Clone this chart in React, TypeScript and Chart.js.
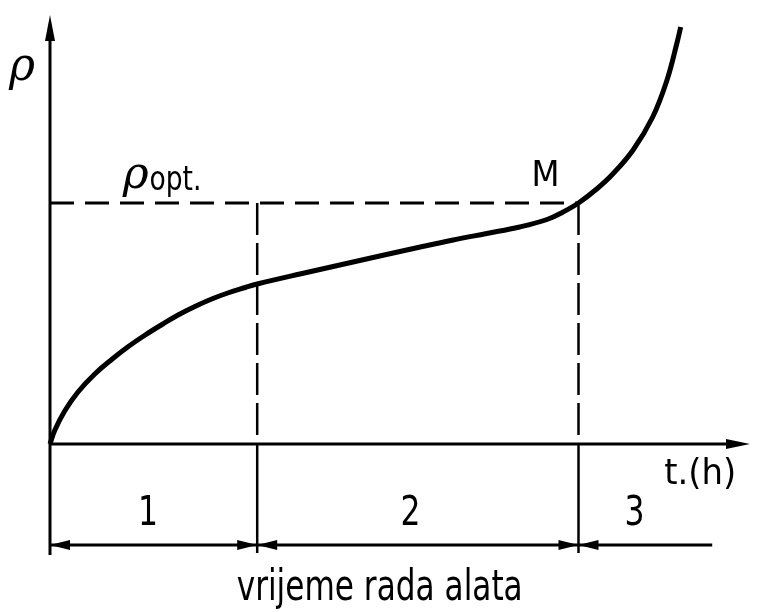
import React, { useEffect, useRef } from "react";
import { Chart, registerables } from "chart.js";

Chart.register(...registerables);

// Wear curve (time t in h, wear rho)
const curveT = [0, 0.07, 0.21, 0.4, 0.64, 0.89, 1.11, 1.36, 1.6, 1.83, 2.07, 2.31, 2.54, 2.79, 2.96, 3.57, 4.71, 5.29, 5.76, 6.24, 6.71, 7.1, 7.33, 7.55, 7.81, 8.04, 8.33, 8.61, 8.81, 8.96, 9.01];
const curveRho = [0, 0.14, 0.33, 0.52, 0.7, 0.85, 0.97, 1.09, 1.195, 1.29, 1.375, 1.45, 1.51, 1.565, 1.6, 1.7, 1.88, 1.97, 2.04, 2.105, 2.17, 2.245, 2.32, 2.41, 2.55, 2.7, 2.94, 3.27, 3.63, 4.02, 4.17];

// Phase boundaries and labels
const phaseBounds = [0, 2.96, 7.55, 9.46];
const phaseLabels = ["1", "2", "3"];
const phaseLabelT = [1.4, 5.15, 8.35];
const RHO_OPT = 2.41;
const T_M = 7.55;

// Axis ranges
const T_MIN = 0;
const T_MAX = 10;
const RHO_MIN = -1.11;
const RHO_MAX = 4.29;
const DIM_RHO = -1.01;

// Texts
const yLabel = "ρ";
const optLabelMain = "ρ";
const optLabelSub = "opt.";
const mLabel = "M";
const xLabel = "t.(h)";
const caption = "vrijeme rada alata";

function arrow(ctx: CanvasRenderingContext2D, tx: number, ty: number, dx: number, dy: number, len: number, hw: number) {
  const px = -dy, py = dx;
  ctx.beginPath();
  ctx.moveTo(tx, ty);
  ctx.lineTo(tx - dx * len + px * hw, ty - dy * len + py * hw);
  ctx.lineTo(tx - dx * len - px * hw, ty - dy * len - py * hw);
  ctx.closePath();
  ctx.fill();
}

const diagramPlugin = {
  id: "diagram",
  beforeDatasetsDraw(chart: any) {
    const { ctx, scales } = chart;
    const X = (v: number) => scales.x.getPixelForValue(v);
    const Y = (v: number) => scales.y.getPixelForValue(v);
    ctx.save();
    ctx.strokeStyle = "#000";
    ctx.fillStyle = "#000";
    ctx.lineCap = "butt";

    // y axis
    ctx.lineWidth = 3;
    ctx.beginPath();
    ctx.moveTo(X(0), Y(RHO_MIN));
    ctx.lineTo(X(0), Y(RHO_MAX) + 10);
    ctx.stroke();
    arrow(ctx, X(0), Y(RHO_MAX), 0, -1, 26, 5);

    // x axis
    ctx.beginPath();
    ctx.moveTo(X(0), Y(0));
    ctx.lineTo(X(T_MAX) - 10, Y(0));
    ctx.stroke();
    arrow(ctx, X(T_MAX), Y(0), 1, 0, 24, 5);

    // dashed rho_opt line
    ctx.lineWidth = 3;
    ctx.setLineDash([24, 11]);
    ctx.beginPath();
    ctx.moveTo(X(0), Y(RHO_OPT));
    ctx.lineTo(X(T_M), Y(RHO_OPT));
    ctx.stroke();

    // vertical boundaries: dashed above axis, solid below
    ctx.lineWidth = 2.5;
    ctx.setLineDash([32, 8]);
    for (const b of [phaseBounds[1], phaseBounds[2]]) {
      ctx.beginPath();
      ctx.moveTo(X(b), Y(RHO_OPT));
      ctx.lineTo(X(b), Y(0));
      ctx.stroke();
    }
    ctx.setLineDash([]);
    for (const b of [phaseBounds[1], phaseBounds[2]]) {
      ctx.beginPath();
      ctx.moveTo(X(b), Y(0));
      ctx.lineTo(X(b), Y(RHO_MIN) - 2);
      ctx.stroke();
    }

    // dimension line
    ctx.lineWidth = 3;
    const dy = Y(DIM_RHO);
    ctx.beginPath();
    ctx.moveTo(X(phaseBounds[0]), dy);
    ctx.lineTo(X(phaseBounds[3]), dy);
    ctx.stroke();
    arrow(ctx, X(phaseBounds[0]), dy, -1, 0, 20, 5);
    arrow(ctx, X(phaseBounds[1]), dy, 1, 0, 20, 5);
    arrow(ctx, X(phaseBounds[1]), dy, -1, 0, 20, 5);
    arrow(ctx, X(phaseBounds[2]), dy, 1, 0, 20, 5);
    arrow(ctx, X(phaseBounds[2]), dy, -1, 0, 20, 5);
    ctx.restore();
  },
  afterDraw(chart: any) {
    const { ctx, scales } = chart;
    const X = (v: number) => scales.x.getPixelForValue(v);
    const Y = (v: number) => scales.y.getPixelForValue(v);
    ctx.save();
    ctx.fillStyle = "#000";
    ctx.textBaseline = "alphabetic";

    // axis labels
    ctx.textAlign = "center";
    ctx.font = "italic 46px 'DejaVu Serif'";
    ctx.fillText(yLabel, 22, 80, 26);

    ctx.font = "italic 44px 'DejaVu Serif'";
    ctx.textAlign = "left";
    ctx.fillText(optLabelMain, X(1.04), Y(2.54) - 2, 26);
    ctx.font = "34px 'DejaVu Sans'";
    ctx.fillText(optLabelSub, X(1.42), Y(2.54), 52);

    ctx.textAlign = "center";
    ctx.font = "36px 'DejaVu Sans'";
    ctx.fillText(mLabel, X(7.08), Y(2.58), 28);

    ctx.font = "36px 'DejaVu Sans'";
    ctx.fillText(xLabel, X(9.29), Y(-0.4), 72);

    ctx.font = "40px 'DejaVu Sans'";
    phaseLabels.forEach((l, i) => {
      ctx.fillText(l, X(phaseLabelT[i]), Y(-0.81), 20);
    });

    ctx.font = "42px 'DejaVu Sans'";
    ctx.fillText(caption, X(4.71), Y(-1.56), 286);
    ctx.restore();
  },
};

export default function App() {
  const ref = useRef<HTMLCanvasElement>(null);
  useEffect(() => {
    if (!ref.current) return;
    const chart = new Chart(ref.current, {
      type: "line",
      data: {
        datasets: [
          {
            data: curveT.map((t, i) => ({ x: t, y: curveRho[i] })),
            borderColor: "#000",
            borderWidth: 5,
            pointRadius: 0,
            tension: 0.4,
            fill: false,
            clip: false as any,
          },
        ],
      },
      options: {
        animation: false,
        responsive: false,
        layout: { padding: { left: 50, right: 11, top: 15, bottom: 57 } },
        plugins: { legend: { display: false }, tooltip: { enabled: false } },
        scales: {
          x: { type: "linear", min: T_MIN, max: T_MAX, display: false },
          y: { type: "linear", min: RHO_MIN, max: RHO_MAX, display: false },
        },
      },
      plugins: [diagramPlugin],
    });
    return () => chart.destroy();
  }, []);
  return (
    <div style={{ position: "absolute", left: 0, top: 0, width: 761, height: 612, background: "#fff" }}>
      <canvas ref={ref} width={761} height={612} style={{ display: "block" }} />
    </div>
  );
}
